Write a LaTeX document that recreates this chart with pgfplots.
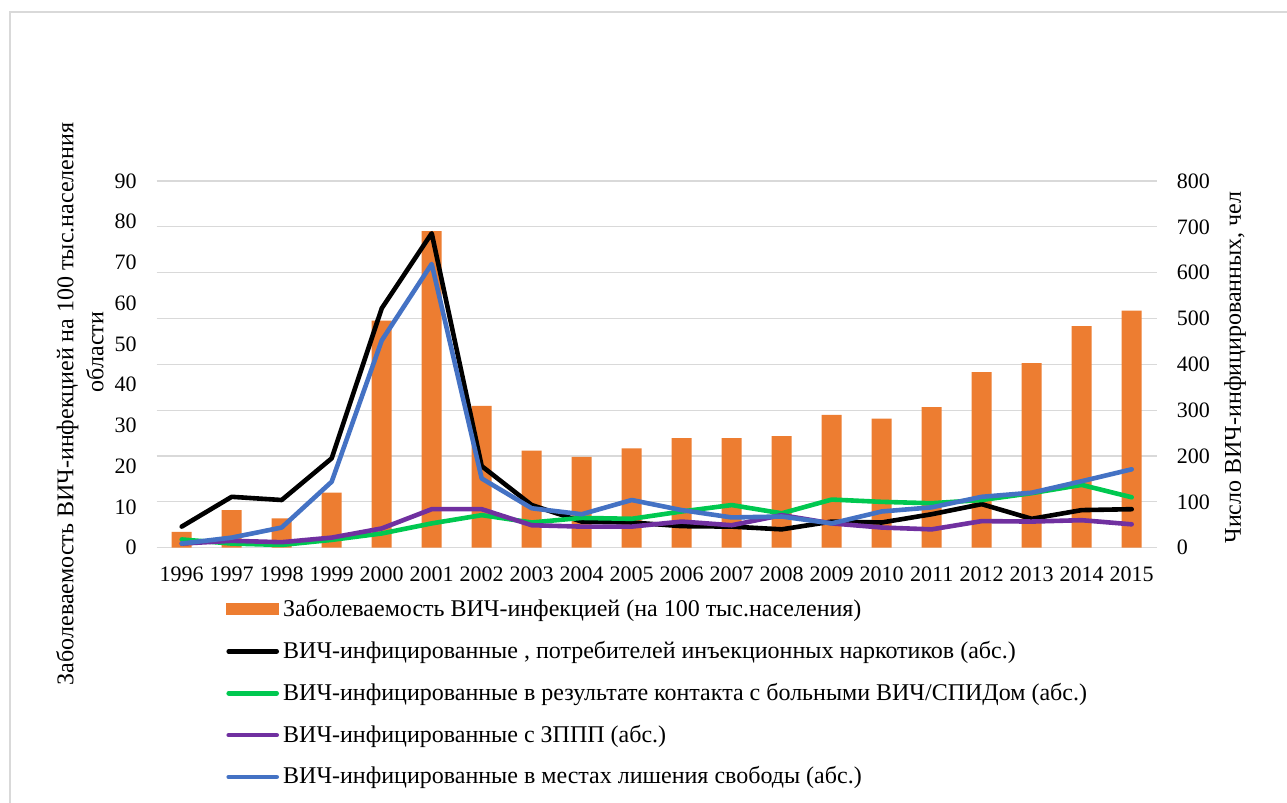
\documentclass[border=0pt]{standalone}
\usepackage{pgfplots}
\pgfplotsset{compat=1.18}
\usepackage{fontspec}
\setmainfont{Liberation Serif}
\definecolor{barorange}{HTML}{ED7D31}
\definecolor{lgreen}{HTML}{00C850}
\definecolor{lpurple}{HTML}{7030A0}
\definecolor{lblue}{HTML}{4472C4}
\definecolor{gridgray}{HTML}{D9D9D9}
\begin{document}
\fontsize{22bp}{26bp}\selectfont
\begin{tikzpicture}[x=1bp,y=1bp]
\useasboundingbox (0,0) rectangle (1287,803);
\fill[white] (0,0) rectangle (1287,803);
\draw[gridgray, line width=1.2bp] (10,0) -- (10,791) -- (1290,791);
\begin{axis}[
  at={(156.7bp,255.3bp)}, anchor=south west,
  width=1000bp, height=366.7bp, scale only axis,
  xmin=-0.5, xmax=19.5, ymin=0, ymax=90,
  ybar, bar width=20bp,
  axis y line*=left, axis x line*=bottom,
  x axis line style={draw=gridgray, line width=1.2bp},
  y axis line style={draw=none},
  tick style={draw=none}, major tick length=0pt,
  xtick={0,...,19},
  xticklabels={1996,1997,1998,1999,2000,2001,2002,2003,2004,2005,2006,2007,2008,2009,2010,2011,2012,2013,2014,2015},
  xticklabel style={anchor=north, inner sep=0pt, yshift=-19bp},
  ytick={0,10,...,90},
  yticklabel style={anchor=east, inner sep=0pt, xshift=-20bp},
  extra y ticks={11.25,22.5,33.75,45,56.25,67.5,78.75,90},
  extra y tick labels={},
  extra y tick style={grid=major},
  major grid style={draw=gridgray, line width=1.2bp},
  /pgf/number format/assume math mode=true,
  ylabel={Заболеваемость ВИЧ-инфекцией на 100 тыс.населения\\\hspace*{104bp}области},
  ylabel style={at={(axis description cs:-0.0767,0.392)}, anchor=center, align=center, font=\fontsize{24bp}{30bp}\selectfont},
]
\addplot[fill=barorange, draw=none] coordinates {
(0,3.9) (1,9.2) (2,7.2) (3,13.5) (4,55.7) (5,77.7) (6,34.8) (7,23.8) (8,22.3) (9,24.4)
(10,26.9) (11,26.9) (12,27.4) (13,32.6) (14,31.7) (15,34.5) (16,43.1) (17,45.3) (18,54.4) (19,58.2)};
\end{axis}
\begin{axis}[
  at={(156.7bp,255.3bp)}, anchor=south west,
  width=1000bp, height=366.7bp, scale only axis,
  xmin=-0.5, xmax=19.5, ymin=0, ymax=800,
  axis y line*=right, axis x line=none,
  y axis line style={draw=none},
  tick style={draw=none}, major tick length=0pt,
  ytick={0,100,...,800},
  yticklabel style={anchor=west, inner sep=0pt, xshift=20bp},
  /pgf/number format/assume math mode=true,
  ylabel={Число ВИЧ-инфицированных, чел},
  ylabel style={at={(axis description cs:1.0783,0.4914)}, anchor=center, font=\fontsize{24bp}{28bp}\selectfont},
  legend cell align=left,
  legend style={at={(axis description cs:0.0693,-0.1400)}, anchor=north west,
    draw=none, fill=none, inner sep=0pt, row sep=21.4bp,
    font=\fontsize{24bp}{28bp}\selectfont,
    nodes={inner sep=0pt},
    /tikz/every odd column/.append style={column sep=4bp}},
  every axis plot/.append style={line width=4.6bp, line join=round, line cap=round, no markers},
  legend image code/.code={\draw[#1] (2.5bp,0bp) -- (50.5bp,0bp);},
]
\addlegendimage{fill=barorange, draw=none, legend image code/.code={\fill[barorange] (0bp,-6bp) rectangle (53bp,6bp);}}
\addlegendentry{Заболеваемость ВИЧ-инфекцией (на 100 тыс.населения)}
\addplot[black] coordinates {
(0,46) (1,111) (2,104) (3,195) (4,522) (5,686) (6,178) (7,93) (8,57) (9,55)
(10,47) (11,46) (12,40) (13,57) (14,55) (15,73) (16,95) (17,63) (18,82) (19,84)};
\addlegendentry{ВИЧ-инфицированные , потребителей инъекционных наркотиков (абс.)}
\addplot[lgreen] coordinates {
(0,18) (1,9) (2,6) (3,17) (4,31) (5,53) (6,71) (7,55) (8,65) (9,63)
(10,79) (11,93) (12,75) (13,105) (14,100) (15,97) (16,104) (17,119) (18,137) (19,110)};
\addlegendentry{ВИЧ-инфицированные в результате контакта с больными ВИЧ/СПИДом (абс.)}
\addplot[lpurple] coordinates {
(0,9) (1,15) (2,12) (3,22) (4,42) (5,84) (6,84) (7,49) (8,46) (9,46)
(10,57) (11,49) (12,71) (13,53) (14,44) (15,40) (16,58) (17,57) (18,60) (19,51)};
\addlegendentry{ВИЧ-инфицированные с ЗППП (абс.)}
\addplot[lblue] coordinates {
(0,9) (1,22) (2,44) (3,144) (4,452) (5,619) (6,151) (7,86) (8,73) (9,104)
(10,82) (11,66) (12,68) (13,53) (14,79) (15,88) (16,111) (17,120) (18,145) (19,171)};
\addlegendentry{ВИЧ-инфицированные в местах лишения свободы (абс.)}
\end{axis}
\end{tikzpicture}
\end{document}
